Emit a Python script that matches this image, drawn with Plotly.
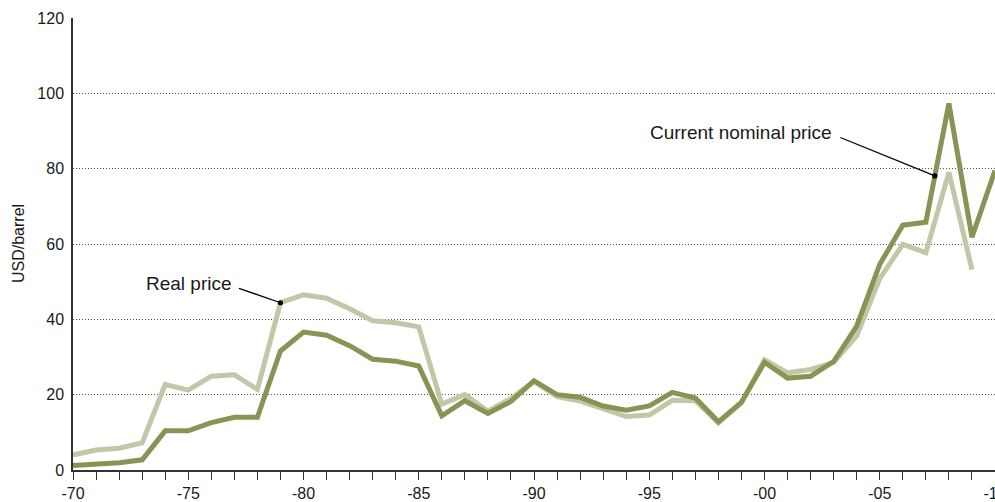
import plotly.graph_objects as go

years = list(range(1970, 2011))

nominal = [1.2, 1.6, 1.9, 2.7, 10.4, 10.4, 12.6, 14.0, 14.0, 31.6,
           36.6, 35.8, 33.0, 29.4, 28.9, 27.6, 14.4, 18.4, 15.0, 18.2,
           23.7, 20.0, 19.3, 17.0, 15.9, 17.0, 20.6, 19.1, 12.8, 18.0,
           28.6, 24.4, 24.9, 28.8, 38.2, 54.6, 65.0, 65.8, 97.3, 61.8,
           79.5]

real = [4.0, 5.3, 5.8, 7.2, 22.7, 21.2, 24.9, 25.3, 21.4, 44.4,
        46.5, 45.6, 42.8, 39.6, 39.1, 38.0, 17.5, 20.0, 15.6, 19.0,
        23.5, 19.5, 18.3, 16.2, 14.2, 14.6, 18.5, 18.4, 12.5, 17.8,
        29.3, 25.8, 26.7, 28.6, 35.6, 50.8, 59.9, 57.7, 79.0, 53.2]

x_ticks = list(range(1970, 2011))
x_labels = ["-" + str(y)[2:] if y % 5 == 0 else "" for y in x_ticks]

dark = "#879454"
light = "#c4c6a8"
txt = "#1a1a1a"

fig = go.Figure()

fig.add_trace(go.Scatter(x=years[:len(real)], y=real, mode="lines",
                         line=dict(color=light, width=5), name="Real price"))
fig.add_trace(go.Scatter(x=years, y=nominal, mode="lines",
                         line=dict(color=dark, width=5), name="Current nominal price"))

# label annotations
fig.add_annotation(x=1975.05, y=49.4, text="Real price", showarrow=False,
                   font=dict(size=19, color=txt))
fig.add_annotation(x=years[9], y=real[9], text="", showarrow=True,
                   arrowhead=6, arrowsize=1, arrowwidth=1.3, arrowcolor="black",
                   ax=-43, ay=-15, standoff=0)

fig.add_annotation(x=1998.98, y=89.7, text="Current nominal price", showarrow=False,
                   font=dict(size=19, color=txt))
fig.add_annotation(x=2007.39, y=nominal[37] + 0.39 * (nominal[38] - nominal[37]),
                   text="", showarrow=True,
                   arrowhead=6, arrowsize=1, arrowwidth=1.3, arrowcolor="black",
                   ax=-96, ay=-39, standoff=0)

# y axis title
fig.add_annotation(xref="paper", yref="paper", x=0, y=0.5, xshift=-55,
                   xanchor="center", yanchor="middle",
                   text="USD/barrel", textangle=-90, showarrow=False,
                   font=dict(size=16, color=txt))

fig.update_layout(
    width=995, height=502,
    margin=dict(l=73, r=0, t=18, b=32, autoexpand=False),
    plot_bgcolor="white", paper_bgcolor="white",
    showlegend=False,
    font=dict(family="Liberation Sans, Arial, sans-serif", color=txt, size=16),
    xaxis=dict(range=[1970, 2010], tickmode="array", tickvals=x_ticks, ticktext=x_labels,
               ticks="outside", ticklen=8, tickwidth=1.2, tickcolor="#333",
               showline=True, linecolor="#333", linewidth=1.5, automargin=False,
               ticklabeloverflow="allow",
               showgrid=False, zeroline=False, tickfont=dict(size=16)),
    yaxis=dict(range=[0, 120], dtick=20, showline=True, linecolor="#333", linewidth=1.5,
               showgrid=True, gridcolor="#555", griddash="1px,2px", gridwidth=1,
               zeroline=False, ticks="", tickfont=dict(size=16), automargin=False,
               ticklabelstandoff=4),
)

# drop the default page margin so the figure fills the window
fig.write_html("out.html", config={"displayModeBar": False},
               post_script="document.body.style.margin='0';document.body.style.overflow='hidden';")
